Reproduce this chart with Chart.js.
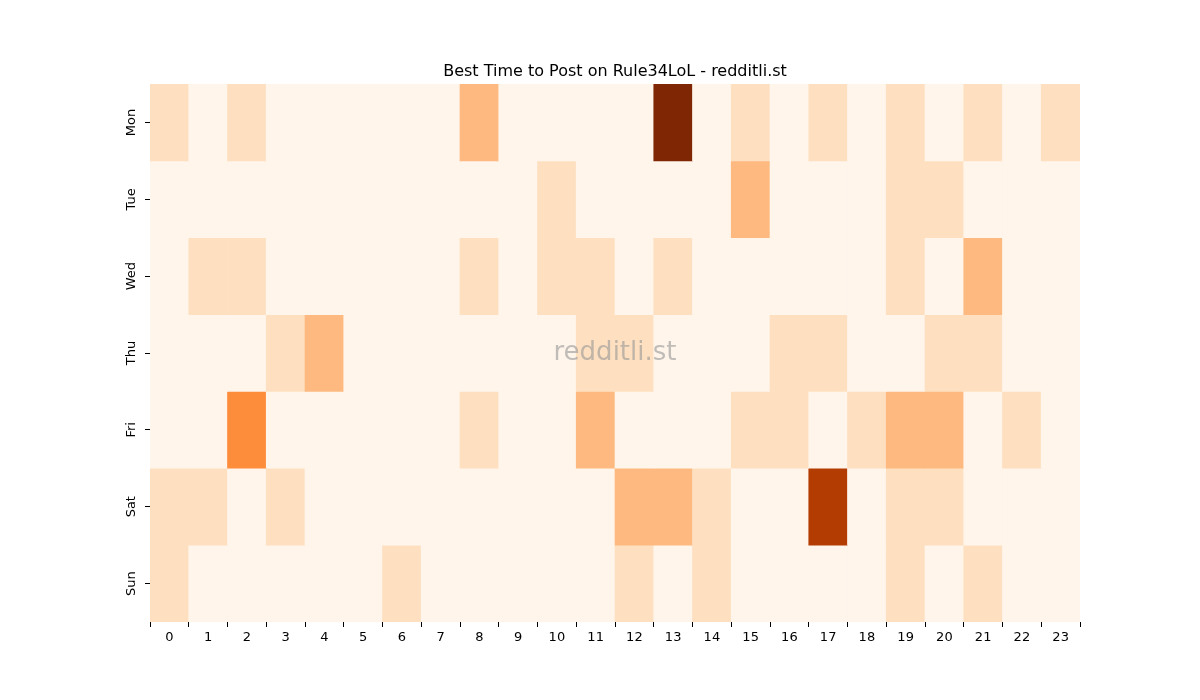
<!DOCTYPE html>
<html><head><script src="https://cdn.jsdelivr.net/npm/chart.js@4"></script>
<style>body{margin:0;background:#fff}</style></head>
<body><canvas id="c" width="1200" height="700"></canvas>
<script>
const hours = ['0','1','2','3','4','5','6','7','8','9','10','11','12','13','14','15','16','17','18','19','20','21','22','23'];
const days = ['Mon','Tue','Wed','Thu','Fri','Sat','Sun'];
const mon = [1,0,1,0,0,0,0,0,2,0,0,0,0,5,0,1,0,1,0,1,0,1,0,1];
const tue = [0,0,0,0,0,0,0,0,0,0,1,0,0,0,0,2,0,0,0,1,1,0,0,0];
const wed = [0,1,1,0,0,0,0,0,1,0,1,1,0,1,0,0,0,0,0,1,0,2,0,0];
const thu = [0,0,0,1,2,0,0,0,0,0,0,1,1,0,0,0,1,1,0,0,1,1,0,0];
const fri = [0,0,3,0,0,0,0,0,1,0,0,2,0,0,0,1,1,0,1,2,2,0,1,0];
const sat = [1,1,0,1,0,0,0,0,0,0,0,0,2,2,1,0,0,4,0,1,1,0,0,0];
const sun = [1,0,0,0,0,0,1,0,0,0,0,0,1,0,1,0,0,0,0,1,0,1,0,0];
const rows = [mon,tue,wed,thu,fri,sat,sun];
const palette = ['#fff5eb','#fee0c1','#fdb97f','#fd8c3b','#b33c03','#7f2704'];
const datasets = rows.map((r,i)=>({label:days[i],data:r.map(()=>[i,i+1]),
  backgroundColor:r.map(v=>palette[v]),borderWidth:0,barPercentage:1,categoryPercentage:1,borderSkipped:false}));
const extra = {id:'extra',afterDraw(ch){
  const c=ch.ctx,a=ch.chartArea,y=ch.scales.y;
  c.save();c.fillStyle='#000';c.font='16px "DejaVu Sans"';c.textAlign='center';c.textBaseline='alphabetic';
  c.fillText('Best Time to Post on Rule34LoL - redditli.st',(a.left+a.right)/2,76);
  c.font='13px "DejaVu Sans"';c.textBaseline='middle';
  days.forEach((d,i)=>{const py=y.getPixelForValue(i+0.5);c.save();c.translate(a.left-18,py);c.rotate(-Math.PI/2);c.fillText(d,0,0);c.restore();});
  c.font='26px "DejaVu Sans"';c.fillStyle='rgba(150,150,150,0.6)';c.fillText('redditli.st',(a.left+a.right)/2,(a.top+a.bottom)/2);
  c.restore();}};
new Chart(document.getElementById('c'),{type:'bar',data:{labels:hours,datasets},
 options:{responsive:false,animation:false,layout:{padding:{top:84,right:120,left:0,bottom:0}},
  plugins:{legend:{display:false},tooltip:{enabled:false}},
  scales:{x:{stacked:true,grid:{drawOnChartArea:false,drawTicks:true,tickLength:5,color:'#000'},border:{display:false},
     ticks:{color:'#000',font:{size:13,family:'DejaVu Sans'},maxRotation:0,padding:3},afterFit(s){s.height=78;}},
   y:{min:0,max:7,reverse:true,grid:{drawOnChartArea:false,drawTicks:true,tickLength:5,color:'#000'},border:{display:false},
     afterBuildTicks(s){s.ticks=days.map((d,i)=>({value:i+0.5}));},
     ticks:{callback:()=>''},afterFit(s){s.width=150;}}}},
 plugins:[extra]});
</script></body></html>
